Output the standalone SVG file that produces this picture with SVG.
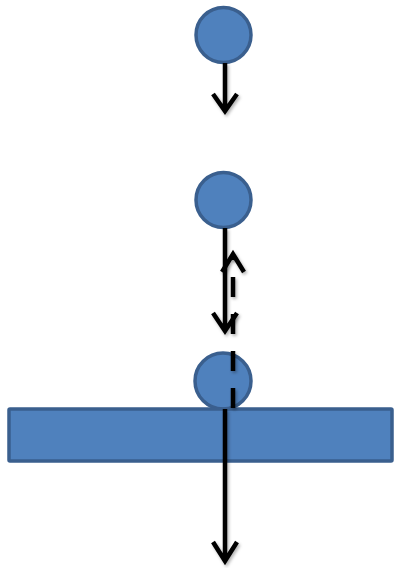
<svg xmlns="http://www.w3.org/2000/svg" width="394" height="568" viewBox="0 0 394 568">
<style>
.shape{fill:#4F81BD;stroke:#3A5F8E;stroke-width:3.5}
.arrow{fill:none;stroke:#000;stroke-width:4.5;stroke-linecap:butt;stroke-linejoin:miter;filter:url(#sh)}
.dash{stroke-dasharray:20 17}
</style>
<defs>
<filter id="sh" filterUnits="userSpaceOnUse" x="0" y="0" width="394" height="568">
<feDropShadow dx="1.5" dy="2" stdDeviation="1.5" flood-color="#000" flood-opacity="0.3"/>
</filter>
</defs>
<rect width="394" height="568" fill="#fff"/>
<g id="ball1"><circle class="shape" cx="223.5" cy="35" r="27.5"/></g>
<g id="ball2"><circle class="shape" cx="223.5" cy="200" r="27.5"/></g>
<g id="ball3"><circle class="shape" cx="223" cy="381" r="28"/></g>
<g id="surface"><rect class="shape" x="9" y="409" width="383" height="52" rx="1"/></g>
<g id="connectors">
<path class="arrow" d="M225 63 V111 M213 94 L225 111 L237 94"/>
<path class="arrow" d="M225 228 V331 M213 313 L225 331 L237 313"/>
<path class="arrow dash" d="M233 408 V255"/>
<path class="arrow" d="M222 272 L233 254 L244 272"/>
<path class="arrow" d="M225 409 V561 M213 542 L225 561 L237 542"/>
</g>
</svg>
